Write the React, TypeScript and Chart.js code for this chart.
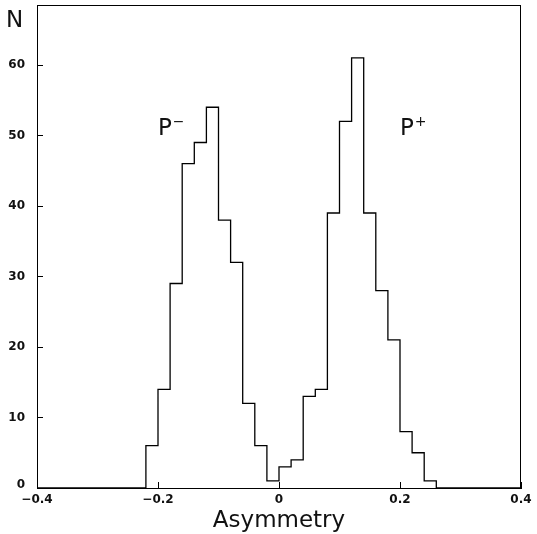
import React, { useEffect, useRef } from "react";
import { Chart, registerables } from "chart.js";

Chart.register(...registerables);

// Histogram of the asymmetry: left edge of each bin and its count
const binLowEdges = [
  -0.22, -0.2, -0.18, -0.16, -0.14, -0.12, -0.1, -0.08, -0.06, -0.04, -0.02,
  0.0, 0.02, 0.04, 0.06, 0.08, 0.1, 0.12, 0.14, 0.16, 0.18, 0.2, 0.22, 0.24,
];
const binCounts = [
  6, 14, 29, 46, 49, 54, 38, 32, 12, 6, 1, 3, 4, 13, 14, 39, 52, 61, 39, 28,
  21, 8, 5, 1,
];
const histHighEdge = 0.26;

const xMin = -0.4;
const xMax = 0.4;
const xStep = 0.2;
const yMin = 0;
const yMax = 68.5;
const yStep = 10;

const xTitle = "Asymmetry";
const yTitle = "N";
const peakLabels = [
  { base: "P", sign: "−", x: -0.2, y: 50 },
  { base: "P", sign: "+", x: 0.2, y: 50 },
];

function fmtX(v: number) {
  if (Math.abs(v) < 1e-9) return "0";
  return v.toFixed(1).replace("-", "−");
}

const decorPlugin = {
  id: "decor",
  afterDraw(chart: any) {
    const ctx = chart.ctx;
    const area = chart.chartArea;
    const xs = chart.scales.x;
    const ys = chart.scales.y;
    ctx.save();
    ctx.strokeStyle = "#000";
    ctx.fillStyle = "#111";
    ctx.lineWidth = 1;

    // frame top and right
    ctx.beginPath();
    ctx.moveTo(area.left, area.top + 0.5);
    ctx.lineTo(area.right, area.top + 0.5);
    ctx.moveTo(area.right - 0.5, area.top);
    ctx.lineTo(area.right - 0.5, area.bottom);
    ctx.stroke();

    // inward ticks
    ctx.beginPath();
    ys.ticks.forEach((t: any) => {
      const y = Math.round(ys.getPixelForValue(t.value)) + 0.5;
      ctx.moveTo(area.left, y);
      ctx.lineTo(area.left + 6, y);
    });
    xs.ticks.forEach((t: any) => {
      const x = Math.round(xs.getPixelForValue(t.value)) + 0.5;
      ctx.moveTo(x, area.bottom);
      ctx.lineTo(x, area.bottom - 6);
    });
    ctx.stroke();

    // tick labels
    ctx.font = "bold 12px 'DejaVu Sans'";
    ctx.textAlign = "right";
    ctx.textBaseline = "middle";
    ys.ticks.forEach((t: any) => {
      const y = ys.getPixelForValue(t.value);
      ctx.fillText(String(Math.round(t.value)), area.left - 12, t.value === 0 ? y - 3 : y);
    });
    ctx.textAlign = "center";
    ctx.textBaseline = "top";
    xs.ticks.forEach((t: any) => {
      const x = xs.getPixelForValue(t.value);
      ctx.fillText(fmtX(t.value), x, area.bottom + 6);
    });

    // axis titles
    ctx.font = "23px 'DejaVu Sans'";
    ctx.textBaseline = "alphabetic";
    ctx.textAlign = "center";
    ctx.fillText(xTitle, (area.left + area.right) / 2, 527);
    ctx.textAlign = "left";
    ctx.fillText(yTitle, 6, 27);

    // peak labels
    peakLabels.forEach((p) => {
      const px = xs.getPixelForValue(p.x);
      const py = ys.getPixelForValue(p.y);
      ctx.font = "23px 'DejaVu Sans'";
      ctx.textAlign = "left";
      ctx.fillText(p.base, px, py);
      const w = ctx.measureText(p.base).width;
      ctx.font = "14px 'DejaVu Sans'";
      ctx.fillText(p.sign, px + w + 1, py - 9);
    });
    ctx.restore();
  },
};

export default function App() {
  const ref = useRef<HTMLCanvasElement | null>(null);
  useEffect(() => {
    if (!ref.current) return;
    const points = [
      { x: xMin, y: 0 },
      ...binLowEdges.map((e, i) => ({ x: e, y: binCounts[i] })),
      { x: histHighEdge, y: 0 },
      { x: xMax, y: 0 },
    ];
    const chart = new Chart(ref.current, {
      type: "line",
      data: {
        datasets: [
          {
            data: points,
            stepped: true,
            borderColor: "#000",
            borderWidth: 1.3,
            pointRadius: 0,
            fill: false,
          },
        ],
      },
      options: {
        animation: false,
        responsive: false,
        layout: { padding: { left: 37, right: 16, top: 5, bottom: 46 } },
        plugins: { legend: { display: false }, tooltip: { enabled: false } },
        scales: {
          x: {
            type: "linear",
            min: xMin,
            max: xMax,
            ticks: { display: false, stepSize: xStep },
            grid: { display: false, drawTicks: false },
            border: { display: true, color: "#000", width: 1 },
            afterBuildTicks: (axis: any) => {
              axis.ticks = axis.ticks.filter(
                (t: any) => Math.abs(t.value / xStep - Math.round(t.value / xStep)) < 1e-6
              );
            },
          },
          y: {
            type: "linear",
            min: yMin,
            max: yMax,
            ticks: { display: false, stepSize: yStep },
            grid: { display: false, drawTicks: false },
            border: { display: true, color: "#000", width: 1 },
            afterBuildTicks: (axis: any) => {
              axis.ticks = axis.ticks.filter(
                (t: any) => Math.abs(t.value / yStep - Math.round(t.value / yStep)) < 1e-6
              );
            },
          },
        },
      },
      plugins: [decorPlugin],
    });
    return () => chart.destroy();
  }, []);
  return (
    <div style={{ position: "absolute", left: 0, top: 0, width: 537, height: 534, background: "#fff" }}>
      <canvas ref={ref} width={537} height={534} style={{ display: "block" }} />
    </div>
  );
}
